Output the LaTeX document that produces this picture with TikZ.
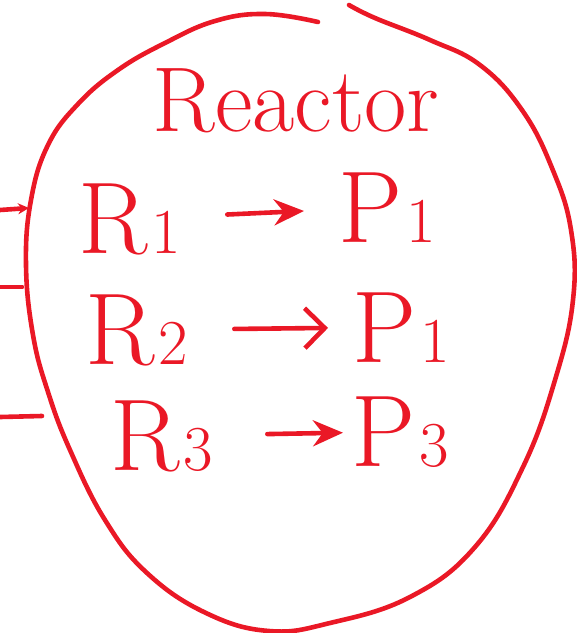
\documentclass[tikz,border=0pt]{standalone}
\usepackage{fontspec}
\usepackage{tikz}
\usetikzlibrary{arrows.meta}
\definecolor{ink}{RGB}{234,24,38}
\newcommand{\spc}[2]{#1\kern4pt{\fontsize{64}{64}\selectfont#2}}

\begin{document}
\begin{tikzpicture}[x=1pt, y=-1pt, color=ink, line width=4.6pt, line cap=round, line join=round,
  every node/.style={inner sep=2pt, font=\fontsize{102}{102}\selectfont},
  full/.style={-{Stealth[length=30pt,width=26pt]}},
  open/.style={-{Straight Barb[length=20pt,width=40pt]}}]
  \useasboundingbox (0,0) rectangle (577,633);
  \draw plot[smooth, tension=0.7] coordinates {(318,22) (265,14) (215,21) (165,43) (118,70) (78,104)
    (48,145) (31,200) (26,265) (33,335) (48,392) (70,450) (105,520) (147,573) (206,613) (269,631)
    (330,623) (410,597) (475,547) (523,467) (555,380) (573,300) (571,230) (552,168) (522,110)
    (480,65) (430,40) (375,18) (349,5)};
  \node[anchor=base, font=\fontsize{92}{92}\selectfont] (title) at (296,131) {Reactor};
  \node[anchor=base west] (r1) at (74,253) {\spc{R}{1}};
  \node[anchor=base west] (p1) at (334,242) {\spc{P}{1}};
  \node[anchor=base west] (r2) at (81,364) {\spc{R}{2}};
  \node[anchor=base west] (q1) at (348,362) {\spc{P}{1}};
  \node[anchor=base west] (r3) at (106,470) {\spc{R}{3}};
  \node[anchor=base west] (p3) at (347,466) {\spc{P}{3}};
  \draw[full, shorten <=42pt, shorten >=30pt] (r1) -- (p1);
  \draw[open, shorten <=42pt, shorten >=20pt] (r2) -- (q1);
  \draw[full, shorten <=50pt, shorten >=4pt] (r3) -- (p3);
  \coordinate (a1) at (0,210);
  \coordinate (b1) at (29,208);
  \coordinate (a2) at (0,287);
  \coordinate (b2) at (22,287);
  \coordinate (a3) at (0,417);
  \coordinate (b3) at (42,416);
  \draw[-{Stealth[length=11pt,width=11pt]}] (a1) -- (b1);
  \draw (a2) -- (b2);
  \draw (a3) -- (b3);
\end{tikzpicture}
\end{document}
